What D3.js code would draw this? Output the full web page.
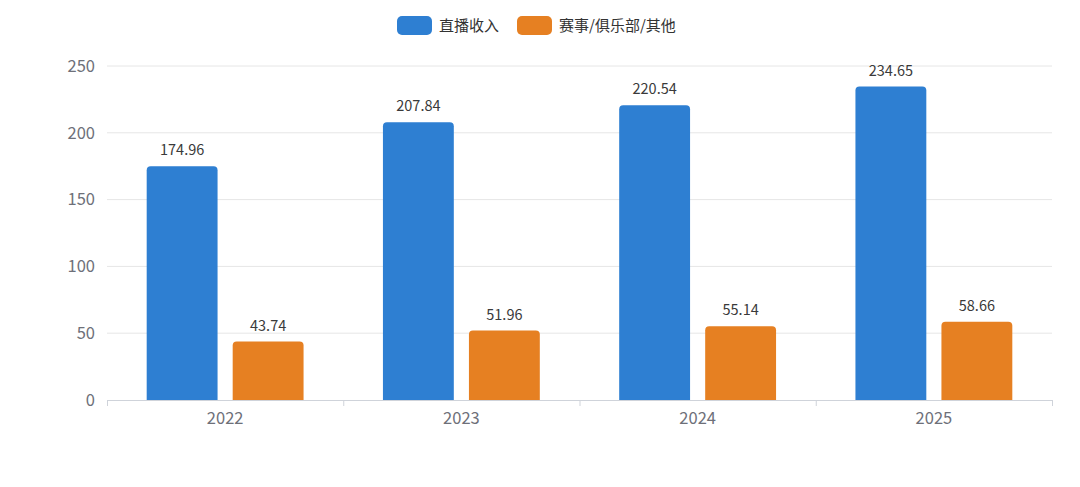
<!DOCTYPE html>
<html><head><meta charset="utf-8">
<script src="https://cdn.jsdelivr.net/npm/d3@7"></script>
<style>
html,body{margin:0;padding:0;background:#fff;}
svg{display:block;font-family:"Microsoft YaHei","Noto Sans CJK SC","Noto Sans",sans-serif;}
</style></head>
<body>
<svg id="chart" width="1080" height="487"></svg>
<script>
const categories = ["2022", "2023", "2024", "2025"];
const seriesNames = ["直播收入", "赛事/俱乐部/其他"];
const liveIncome = [174.96, 207.84, 220.54, 234.65];
const otherIncome = [43.74, 51.96, 55.14, 58.66];
const yTicks = [0, 50, 100, 150, 200, 250];
const colors = ["#2e7fd2", "#e68022"];

const svg = d3.select("#chart");
const m = {left:107, right:1052, top:66, bottom:400};
const x = d3.scaleBand().domain(categories).range([m.left, m.right]);
const y = d3.scaleLinear().domain([0, 250]).range([m.bottom, m.top]);
const series = [liveIncome, otherIncome];

// grid
svg.append("g").selectAll("line").data(yTicks.filter(d=>d>0)).join("line")
  .attr("x1", m.left).attr("x2", m.right)
  .attr("y1", d=>y(d)).attr("y2", d=>y(d))
  .attr("stroke", "#e6e6e6").attr("stroke-width", 1);

// y labels
svg.append("g").selectAll("text").data(yTicks).join("text")
  .attr("x", m.left - 12).attr("y", d=>y(d)).attr("dy", "0.35em")
  .attr("text-anchor", "end").attr("fill", "#6e7079").attr("font-size", 16.5)
  .text(d=>d);

// x axis
const xAxis = d3.axisBottom(x).tickSize(5).tickSizeOuter(5).tickFormat(d=>d);
const gx = svg.append("g").attr("transform", `translate(0,${m.bottom})`).call(xAxis);
gx.select(".domain").attr("stroke", "#cfd3da");
gx.selectAll(".tick line").remove();
gx.selectAll(".tick text").attr("fill", "#6e7079").attr("font-size", 16.5).attr("dy", "0.95em")
  .attr("font-family", "'Microsoft YaHei','Noto Sans CJK SC','Noto Sans',sans-serif");
// boundary ticks
const boundaries = categories.map(c=>x(c)).concat([m.right]);
svg.append("g").selectAll("line").data(boundaries).join("line")
  .attr("x1", d=>d+0.5).attr("x2", d=>d+0.5)
  .attr("y1", m.bottom).attr("y2", m.bottom+6)
  .attr("stroke", "#cfd3da");

// bars
const bw = x.bandwidth();
const barW = bw * 0.3;
const gap = bw * 0.064;
const off = (bw - 2*barW - gap)/2;
const r = 4;
function topRounded(x0, y0, w, h, rr){
  rr = Math.min(rr, h, w/2);
  return `M${x0},${y0+h}V${y0+rr}Q${x0},${y0} ${x0+rr},${y0}H${x0+w-rr}Q${x0+w},${y0} ${x0+w},${y0+rr}V${y0+h}Z`;
}
series.forEach((vals, si)=>{
  const g = svg.append("g");
  g.selectAll("path").data(vals).join("path")
    .attr("d", (v,i)=>{
      const x0 = x(categories[i]) + off + si*(barW+gap);
      return topRounded(x0, y(v), barW, y(0)-y(v), r);
    })
    .attr("fill", colors[si]);
  g.selectAll("text").data(vals).join("text")
    .attr("x", (v,i)=> x(categories[i]) + off + si*(barW+gap) + barW/2)
    .attr("y", v=> y(v) - 11)
    .attr("text-anchor", "middle").attr("fill", "#3a3a3a").attr("font-size", 14.5)
    .text(v=>v.toFixed(2));
});

// legend
const legend = svg.append("g");
const legendX = [397, 517];
seriesNames.forEach((n, i)=>{
  legend.append("rect").attr("x", legendX[i]).attr("y", 16).attr("width", 35).attr("height", 19)
    .attr("rx", 5).attr("fill", colors[i]);
  legend.append("text").attr("x", legendX[i] + 42).attr("y", 25.5).attr("dy", "0.35em")
    .attr("fill", "#333").attr("font-size", 15).text(n);
});
</script>
</body></html>
